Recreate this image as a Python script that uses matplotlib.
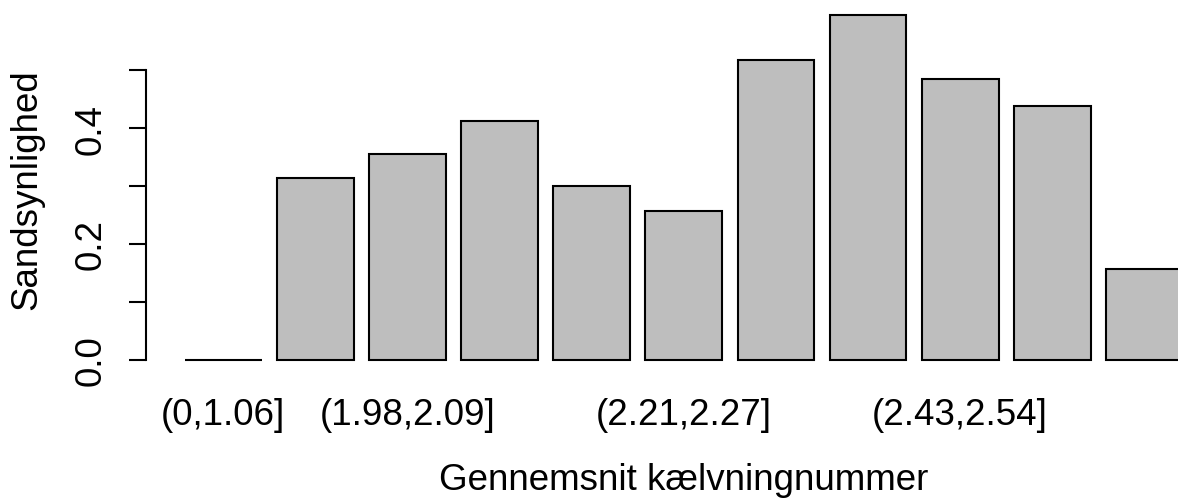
import matplotlib
matplotlib.use("Agg")
import matplotlib.pyplot as plt

# data
labels = ["(0,1.06]", "", "(1.98,2.09]", "", "", "(2.21,2.27]", "", "", "(2.43,2.54]", "", ""]
probs = [0.0, 0.314, 0.355, 0.412, 0.300, 0.257, 0.518, 0.595, 0.485, 0.438, 0.157]
y_ticks = [0.0, 0.1, 0.2, 0.3, 0.4, 0.5]
y_ticklabels = ["0.0", "", "0.2", "", "0.4", ""]

plt.rcParams['font.family'] = ['Liberation Sans', 'DejaVu Sans']
FS = 26.5

W, H = 1178, 502
fig = plt.figure(figsize=(W / 100, H / 100), dpi=100)

# axes placed in pixel coordinates (R-style plot region)
ax_l, ax_r, ax_t, ax_b = 146, 1178, 0, 380
ax = fig.add_axes([ax_l / W, 1 - ax_b / H, (ax_r - ax_l) / W, (ax_b - ax_t) / H])

# barplot positions like R: width 1, space 0.2
centers = [0.7 + 1.2 * i for i in range(len(probs))]
ax.bar(centers, probs, width=1.0, color="#bebebe", edgecolor="black", linewidth=1.5)

ax.set_xlim(-0.308, 13.138)
ax.set_ylim(-0.0333, 0.623)

for s in ["top", "right", "bottom"]:
    ax.spines[s].set_visible(False)
ax.spines["left"].set_bounds(0, 0.5)
ax.spines["left"].set_linewidth(1.5)

ax.set_yticks(y_ticks)
ax.set_yticklabels(y_ticklabels, rotation=90, va="center", fontsize=FS)
ax.tick_params(axis="y", length=12, width=1.5, pad=15)

shown = [(c, l) for c, l in zip(centers, labels) if l]
ax.set_xticks([c for c, _ in shown])
ax.set_xticklabels([l for _, l in shown], fontsize=FS)
ax.tick_params(axis="x", length=0, pad=13)

fig.text(684 / W, 1 - 481 / H, "Gennemsnit kælvningnummer", fontsize=FS,
         ha="center", va="center")
fig.text(27 / W, 1 - 190 / H, "Sandsynlighed", fontsize=FS, rotation=90,
         ha="center", va="center")

fig.savefig("out.png", dpi=100)
